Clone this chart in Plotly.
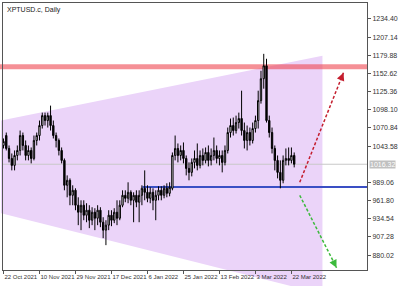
import plotly.graph_objects as go

# ---------------- data ----------------
opens = [1044.5, 1059.4, 1040.0, 1025.0, 1014.6, 1029.5, 1037.0, 1059.4, 1044.5, 1029.5,
         1037.0, 1025.0, 1052.0, 1059.4, 1074.4, 1089.3, 1081.9, 1089.3, 1074.4, 1059.4,
         1052.0, 1037.0, 1022.1, 984.7, 992.2, 969.7, 977.2, 954.8, 944.3, 954.8,
         939.8, 947.3, 932.3, 944.3, 935.3, 947.3, 929.3, 917.4, 924.9, 939.8,
         932.3, 944.3, 935.3, 954.8, 969.7, 965.2, 974.2, 962.2, 969.7, 959.3,
         969.7, 980.2, 974.2, 965.2, 974.2, 962.2, 969.7, 977.2, 969.7, 980.2,
         972.7, 980.2, 1029.5, 1040.0, 1029.5, 1037.0, 1025.0, 1010.1, 1004.1, 1019.1,
         1025.0, 1014.6, 1029.5, 1022.1, 1034.0, 1022.1, 1029.5, 1037.0, 1025.0, 1029.5,
         1019.1, 1037.0, 1063.9, 1074.4, 1066.9, 1078.9, 1084.9, 1066.9, 1052.0, 1063.9,
         1052.0, 1069.9, 1081.9, 1111.8, 1144.7, 1164.1, 1081.9, 1063.9, 1040.0, 1022.1,
         1004.1, 992.2, 1022.1, 1025.0, 1022.1, 1029.5]
highs = [1055.0, 1063.9, 1044.5, 1032.5, 1037.0, 1044.5, 1066.9, 1063.9, 1052.0, 1044.5,
         1041.5, 1059.4, 1063.9, 1081.9, 1093.8, 1093.8, 1093.8, 1104.3, 1081.9, 1063.9,
         1055.0, 1041.5, 1025.0, 999.6, 995.1, 984.7, 980.2, 966.7, 962.2, 962.2,
         957.8, 954.8, 951.8, 950.3, 954.8, 951.8, 936.8, 932.3, 947.3, 947.3,
         950.3, 962.2, 962.2, 977.2, 977.2, 989.2, 977.2, 974.2, 977.2, 977.2,
         984.7, 1007.1, 984.7, 981.7, 980.2, 977.2, 983.2, 983.2, 984.7, 987.7,
         989.2, 1034.0, 1059.4, 1047.5, 1044.5, 1049.0, 1029.5, 1019.1, 1025.0, 1037.0,
         1047.5, 1037.0, 1040.0, 1041.5, 1044.5, 1040.0, 1056.4, 1044.5, 1037.0, 1037.0,
         1044.5, 1071.4, 1084.9, 1086.4, 1089.3, 1093.8, 1126.7, 1078.9, 1074.4, 1071.4,
         1078.9, 1089.3, 1126.7, 1156.6, 1182.0, 1174.6, 1089.3, 1071.4, 1044.5, 1029.5,
         1022.1, 1029.5, 1040.0, 1041.5, 1041.5, 1034.0]
lows = [1040.0, 1037.0, 1019.1, 1007.1, 1007.1, 1022.1, 1029.5, 1037.0, 1022.1, 1022.1,
        1017.6, 1022.1, 1044.5, 1052.0, 1069.9, 1074.4, 1071.4, 1066.9, 1055.0, 1041.5,
        1029.5, 1017.6, 977.2, 966.7, 954.8, 954.8, 947.3, 924.9, 917.4, 932.3,
        929.3, 920.4, 924.9, 917.4, 924.9, 921.9, 905.4, 894.9, 917.4, 923.4,
        927.9, 924.9, 932.3, 951.8, 959.3, 957.8, 954.8, 929.3, 951.8, 929.3,
        954.8, 962.2, 959.3, 957.8, 947.3, 932.3, 962.2, 962.2, 965.2, 966.7,
        968.2, 977.2, 1022.1, 1019.1, 1022.1, 1017.6, 999.6, 992.2, 998.1, 1010.1,
        1007.1, 1010.1, 1014.6, 1017.6, 1013.1, 1014.6, 1022.1, 1017.6, 1014.6, 1004.1,
        1014.6, 1032.5, 1056.4, 1059.4, 1062.4, 1069.9, 1059.4, 1040.0, 1037.0, 1044.5,
        1047.5, 1063.9, 1069.9, 1107.3, 1129.7, 1078.9, 1056.4, 1032.5, 1007.1, 995.1,
        980.2, 987.7, 1014.6, 1014.6, 1017.6, 1011.6]
closes = [1050.5, 1040.0, 1025.0, 1014.6, 1029.5, 1037.0, 1059.4, 1044.5, 1029.5, 1037.0,
          1025.0, 1052.0, 1059.4, 1074.4, 1089.3, 1081.9, 1089.3, 1074.4, 1059.4, 1052.0,
          1037.0, 1022.1, 984.7, 992.2, 969.7, 977.2, 954.8, 944.3, 954.8, 939.8,
          947.3, 932.3, 944.3, 935.3, 947.3, 929.3, 917.4, 924.9, 939.8, 932.3,
          944.3, 935.3, 954.8, 969.7, 965.2, 974.2, 962.2, 969.7, 959.3, 969.7,
          980.2, 974.2, 965.2, 974.2, 962.2, 969.7, 977.2, 969.7, 980.2, 972.7,
          981.7, 1029.5, 1040.0, 1029.5, 1037.0, 1025.0, 1010.1, 1004.1, 1019.1, 1025.0,
          1014.6, 1029.5, 1022.1, 1034.0, 1022.1, 1029.5, 1037.0, 1025.0, 1029.5, 1019.1,
          1037.0, 1063.9, 1074.4, 1066.9, 1078.9, 1084.9, 1066.9, 1052.0, 1063.9, 1052.0,
          1069.9, 1081.9, 1111.8, 1144.7, 1164.1, 1081.9, 1063.9, 1040.0, 1022.1, 1004.1,
          992.2, 1022.1, 1025.0, 1022.1, 1029.5, 1016.32]
bar_index = list(range(len(closes)))

date_tick_index = [0, 13, 26, 39, 52, 65, 78, 91, 104]
date_tick_labels = ["22 Oct 2021", "10 Nov 2021", "29 Nov 2021", "17 Dec 2021", "6 Jan 2022",
                    "25 Jan 2022", "13 Feb 2022", "3 Mar 2022", "22 Mar 2022"]
price_ticks = [1234.40, 1207.14, 1179.88, 1152.62, 1125.36, 1098.10, 1070.84, 1043.58,
               989.06, 961.80, 934.54, 907.28, 880.02]
price_tick_labels = [f"{v:.2f}" for v in price_ticks]

# drawn objects (bar index / price)
resistance_level = 1162.6
support_level = 982.0
support_start = 50.2
triangle_x = [-0.89, 115.2, 115.2, -0.89]
triangle_y = [1081.9, 1179.1, 821.7, 942.8]
up_arrow = [(107.0, 989.2), (122.8, 1153.6)]
down_arrow = [(107.0, 969.7), (120.3, 861.0)]

X_RANGE = [-0.18, 131.3]
Y_RANGE = [857.6, 1258.3]

FONT = "Liberation Sans"

fig = go.Figure()
fig.add_trace(go.Candlestick(
    x=bar_index, open=opens, high=highs, low=lows, close=closes,
    increasing=dict(line=dict(color="black", width=1), fillcolor="white"),
    decreasing=dict(line=dict(color="black", width=1), fillcolor="black"),
    whiskerwidth=0, showlegend=False, hoverinfo="skip"))

def px(v):
    return (v - X_RANGE[0]) / (X_RANGE[1] - X_RANGE[0])

def py(v):
    return (v - Y_RANGE[0]) / (Y_RANGE[1] - Y_RANGE[0])

path = "M " + " L ".join(f"{px(a):.4f},{py(b):.4f}" for a, b in zip(triangle_x, triangle_y)) + " Z"
shapes = [
    dict(type="path", path=path, xref="paper", yref="paper", fillcolor="#ebd4f9",
         line=dict(width=0), layer="below"),
    dict(type="line", xref="paper", yref="y", x0=-0.01, x1=1, y0=resistance_level,
         y1=resistance_level, line=dict(color="rgba(238,70,80,0.6)", width=5), layer="below"),
    dict(type="line", xref="paper", yref="y", x0=0, x1=1, y0=closes[-1], y1=closes[-1],
         line=dict(color="#c8c8c8", width=1), layer="below"),
    dict(type="line", xref="x", yref="y", x0=support_start, x1=X_RANGE[1], y0=support_level,
         y1=support_level, line=dict(color="#3a4fc4", width=2), layer="below"),
    dict(type="line", xref="x", yref="y", x0=up_arrow[0][0], y0=up_arrow[0][1],
         x1=up_arrow[1][0], y1=up_arrow[1][1], line=dict(color="#c41e2e", width=1.5, dash="3px,2px")),
    dict(type="line", xref="x", yref="y", x0=down_arrow[0][0], y0=down_arrow[0][1],
         x1=down_arrow[1][0], y1=down_arrow[1][1], line=dict(color="#3cba3c", width=1.5, dash="3px,2px")),
]

annotations = [
    dict(text="XPTUSD.c, Daily", xref="paper", yref="paper", x=0, y=1, xanchor="left",
         yanchor="top", xshift=2, yshift=-1, showarrow=False,
         font=dict(family=FONT, size=7, color="#222")),
    dict(text=f"{closes[-1]:.2f}", xref="paper", yref="y", x=1, y=closes[-1], xanchor="left",
         yanchor="middle", xshift=2, showarrow=False, bgcolor="#c0c0c0", borderpad=0,
         font=dict(family=FONT, size=7, color="white")),
]
for (s, e), col in [(up_arrow, "#c41e2e"), (down_arrow, "#3cba3c")]:
    tx = e[0] - 0.08 * (e[0] - s[0])
    ty = e[1] - 0.08 * (e[1] - s[1])
    annotations.append(dict(x=e[0], y=e[1], ax=tx, ay=ty, xref="x", yref="y", axref="x",
                            ayref="y", showarrow=True, arrowhead=2, arrowsize=1.2,
                            arrowwidth=1.3, arrowcolor=col, text=""))

fig.update_layout(
    width=400, height=286,
    margin=dict(l=2, r=30, t=2, b=16),
    paper_bgcolor="white", plot_bgcolor="rgba(0,0,0,0)",
    shapes=shapes, annotations=annotations,
    font=dict(family=FONT, size=7, color="#333"),
    xaxis=dict(range=X_RANGE, rangeslider=dict(visible=False), showgrid=False, zeroline=False,
               tickvals=date_tick_index, ticktext=date_tick_labels, ticks="outside", ticklen=3,
               tickcolor="#555", ticklabelposition="outside right", tickangle=0, showline=True,
               linecolor="#555", linewidth=1, mirror=True, ticklabelstandoff=1,
               tickfont=dict(family=FONT, size=6, color="#333")),
    yaxis=dict(range=Y_RANGE, side="right", showgrid=False, zeroline=False,
               tickvals=price_ticks, ticktext=price_tick_labels, ticks="outside", ticklen=3,
               tickcolor="#555", showline=True, linecolor="#555", linewidth=1, mirror=True,
               tickfont=dict(family=FONT, size=7, color="#333")),
)

fig.write_html("out.html")
